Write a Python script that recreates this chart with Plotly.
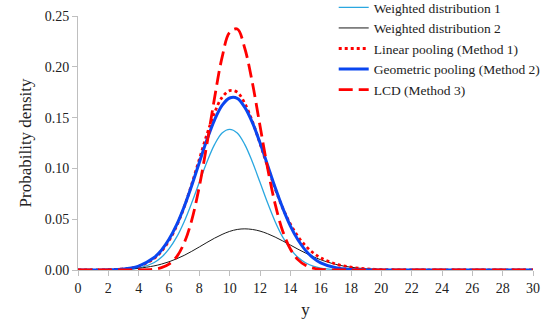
import plotly.graph_objects as go

# x grid
y_grid = [0, 1, 2, 3, 4, 5, 5.5, 6, 6.5, 7, 7.5, 8, 8.5, 9, 9.5, 10, 10.5, 11, 11.5, 12,
          12.5, 13, 13.5, 14, 14.5, 15, 15.5, 16, 17, 18, 19, 20, 21, 22, 23, 24, 25,
          26, 27, 28, 29, 30]

weighted_1 = [0, 0, 0.0001, 0.0004, 0.0019, 0.0071, 0.0125, 0.0207, 0.0323, 0.0476, 0.0661,
              0.0863, 0.1063, 0.1234, 0.1349, 0.1385, 0.1349, 0.1234, 0.1063, 0.0863,
              0.0661, 0.0476, 0.0323, 0.0207, 0.0125, 0.0071, 0.0038, 0.0019, 0.0004,
              0.0001, 0, 0, 0, 0, 0, 0, 0, 0, 0, 0, 0, 0]

weighted_2 = [0, 0.0001, 0.0002, 0.0007, 0.0017, 0.0040, 0.0058, 0.0081, 0.0110, 0.0144,
              0.0184, 0.0227, 0.0271, 0.0313, 0.0350, 0.0380, 0.0399, 0.0405, 0.0399,
              0.0383, 0.0357, 0.0324, 0.0286, 0.0246, 0.0205, 0.0167, 0.0132, 0.0101,
              0.0055, 0.0027, 0.0012, 0.0004, 0.0002, 0.0001, 0, 0, 0, 0, 0, 0, 0, 0]

linear_pool = [0, 0.0001, 0.0003, 0.0011, 0.0036, 0.0111, 0.0183, 0.0288, 0.0433, 0.0620,
               0.0845, 0.1090, 0.1334, 0.1547, 0.1699, 0.1765, 0.1750, 0.1639, 0.1462,
               0.1246, 0.1018, 0.0800, 0.0609, 0.0453, 0.0330, 0.0238, 0.0170, 0.0120,
               0.0059, 0.0028, 0.0012, 0.0004, 0.0002, 0.0001, 0, 0, 0, 0, 0, 0, 0, 0]

geometric_pool = [0, 0, 0.0002, 0.0011, 0.0039, 0.0120, 0.0195, 0.0302, 0.0444, 0.0623,
                  0.0832, 0.1058, 0.1281, 0.1476, 0.1620, 0.1693, 0.1690, 0.1600, 0.1450,
                  0.1252, 0.1032, 0.0811, 0.0609, 0.0435, 0.0297, 0.0193, 0.0120, 0.0071,
                  0.0022, 0.0005, 0.0001, 0, 0, 0, 0, 0, 0, 0, 0, 0, 0, 0]

lcd = [0, 0, 0, 0, 0.0001, 0.0008, 0.0023, 0.0058, 0.0130, 0.0266, 0.0491, 0.0821, 0.1240,
       0.1690, 0.2092, 0.2340, 0.2372, 0.2180, 0.1840, 0.1420, 0.1003, 0.0648, 0.0382,
       0.0207, 0.0102, 0.0046, 0.0019, 0.0007, 0.0001, 0, 0, 0, 0, 0, 0, 0, 0, 0, 0, 0,
       0, 0]

x_ticks = list(range(0, 31, 2))
y_ticks = [0.00, 0.05, 0.10, 0.15, 0.20, 0.25]

FONT = "Liberation Serif, Times New Roman, serif"

fig = go.Figure()
fig.add_trace(go.Scatter(x=y_grid, y=weighted_1, mode="lines", name="Weighted distribution 1",
                         line=dict(color="#2AA7E0", width=1.3, shape="spline")))
fig.add_trace(go.Scatter(x=y_grid, y=weighted_2, mode="lines", name="Weighted distribution 2",
                         line=dict(color="#1A1A1A", width=1, shape="spline")))
fig.add_trace(go.Scatter(x=y_grid, y=linear_pool, mode="lines", name="Linear pooling (Method 1)",
                         line=dict(color="#FF0000", width=2.8, dash="dot", shape="spline")))
fig.add_trace(go.Scatter(x=y_grid, y=geometric_pool, mode="lines", name="Geometric pooling (Method 2)",
                         line=dict(color="#0A46F0", width=3, shape="spline")))
fig.add_trace(go.Scatter(x=y_grid, y=lcd, mode="lines", name="LCD (Method 3)",
                         line=dict(color="#FF0000", width=2.8, dash="14px,6px", shape="spline")))

fig.update_layout(
    width=550, height=328,
    margin=dict(l=78, r=17, t=16, b=58, autoexpand=False),
    paper_bgcolor="white", plot_bgcolor="white",
    font=dict(family=FONT, size=14, color="#222222"),
    showlegend=True,
    legend=dict(x=0.562, y=1.094, xanchor="left", yanchor="top",
                bgcolor="rgba(0,0,0,0)", font=dict(family=FONT, size=13.5, color="#222222"),
                tracegroupgap=0, itemwidth=30),
    xaxis=dict(range=[0, 30], tickvals=x_ticks, ticktext=[str(v) for v in x_ticks],
               showgrid=False, zeroline=False, showline=True, linecolor="#BFBFBF", linewidth=1,
               ticks="outside", ticklen=5, tickcolor="#BFBFBF",
               tickfont=dict(family=FONT, size=14, color="#222222"),
               title=dict(text="y", font=dict(family=FONT, size=17, color="#222222"), standoff=8)),
    yaxis=dict(range=[0, 0.25], tickvals=y_ticks, ticktext=[f"{v:.2f}" for v in y_ticks],
               showgrid=False, zeroline=False, showline=True, linecolor="#BFBFBF", linewidth=1,
               ticks="outside", ticklen=5, tickcolor="#BFBFBF",
               tickfont=dict(family=FONT, size=14, color="#222222"),
               title=dict(text="Probability density", font=dict(family=FONT, size=17, color="#222222"),
                          standoff=8)),
)

fig.write_html("out.html",
               config={"displayModeBar": False},
               post_script="document.body.style.margin='0';document.body.style.overflow='hidden';")
